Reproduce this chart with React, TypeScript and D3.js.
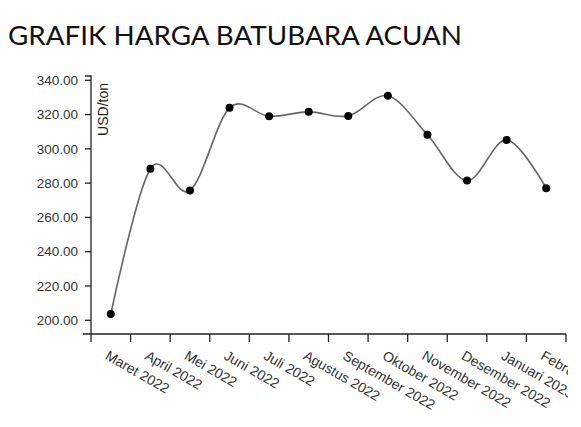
import React from "react";
import * as d3 from "d3";

const months = [
  "Maret 2022", "April 2022", "Mei 2022", "Juni 2022", "Juli 2022", "Agustus 2022",
  "September 2022", "Oktober 2022", "November 2022", "Desember 2022", "Januari 2023", "Februari 2023",
];
const prices = [203.69, 288.4, 275.64, 323.91, 319.0, 321.59, 319.22, 330.97, 308.2, 281.48, 305.21, 277.05];
const yTicks = [200, 220, 240, 260, 280, 300, 320, 340];
const title = "GRAFIK HARGA BATUBARA ACUAN";
const yLabel = "USD/ton";

export default function App() {
  const W = 568, H = 427;
  const x = d3.scaleBand<string>().domain(months).range([91, 566]).paddingInner(0).paddingOuter(0);
  const y = d3.scaleLinear().domain([192, 342.5]).range([334, 76]);
  const line = d3
    .line<number>()
    .x((_, i) => (x(months[i]) as number) + x.bandwidth() / 2)
    .y((d) => y(d))
    .curve(d3.curveCardinal);
  const edges = months.map((m) => x(m) as number).concat([x.range()[1]]);
  const axisY = 334;
  const axisX = 91;
  const font = "'Liberation Sans', Arial, sans-serif";
  return (
    <svg
      width={W}
      height={H}
      style={{ position: "absolute", left: 0, top: 0, display: "block", background: "#fff", overflow: "hidden" }}
    >
      <text x={8} y={44.5} fontFamily="Lato, sans-serif" fontSize={27.5} fill="#111" textLength={454} lengthAdjust="spacingAndGlyphs">
        {title}
      </text>
      {/* Y axis */}
      <g fontFamily={font} fontSize={13.5} fill="#333">
        <path d={`M${axisX - 6},76H${axisX}V${axisY}`} stroke="#222" strokeWidth={1.3} fill="none" />
        {yTicks.map((t) => (
          <g key={t} transform={`translate(${axisX},${y(t)})`}>
            <line x1={-6} x2={0} stroke="#222" strokeWidth={1.3} />
            <text x={-13} dy="0.35em" textAnchor="end" fill="#333">
              {d3.format(".2f")(t)}
            </text>
          </g>
        ))}
        <text
          transform={`translate(108,83) rotate(-90)`}
          textAnchor="end"
          fontSize={14}
          fill="#222"
        >
          {yLabel}
        </text>
      </g>
      {/* X axis */}
      <g fontFamily={font} fontSize={14} fill="#333">
        <path d={`M83,${axisY}H${x.range()[1]}`} stroke="#222" strokeWidth={1.3} fill="none" />
        {edges.map((e, i) => (
          <line key={i} x1={e} x2={e} y1={axisY} y2={axisY + 8} stroke="#222" strokeWidth={1.3} />
        ))}
        {months.map((m) => (
          <text
            key={m}
            transform={`translate(${(x(m) as number) + x.bandwidth() / 2 - 6.5},358.5) rotate(30)`}
            textAnchor="start"
            fill="#333"
          >
            {m}
          </text>
        ))}
      </g>
      <path d={line(prices) || ""} fill="none" stroke="#666" strokeWidth={1.6} />
      {prices.map((p, i) => (
        <circle key={i} cx={(x(months[i]) as number) + x.bandwidth() / 2} cy={y(p)} r={4} fill="#000" />
      ))}
    </svg>
  );
}
